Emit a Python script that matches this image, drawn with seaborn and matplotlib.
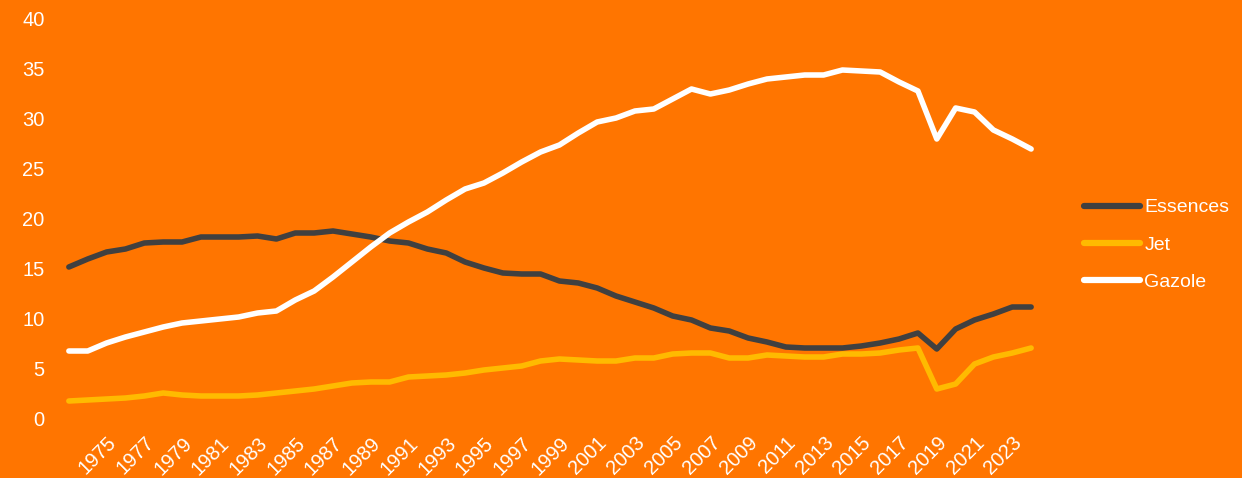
import pandas as pd
import matplotlib
matplotlib.use("Agg")
import matplotlib.pyplot as plt
import seaborn as sns

# data (1973-2024)
years = list(range(1973, 2025))

essences = [15.1, 15.9, 16.6, 16.9, 17.5, 17.6, 17.6, 18.1, 18.1, 18.1,
            18.2, 17.9, 18.5, 18.5, 18.7, 18.4, 18.1, 17.7, 17.5, 16.9,
            16.5, 15.6, 15.0, 14.5, 14.4, 14.4, 13.7, 13.5, 13.0, 12.2,
            11.6, 11.0, 10.2, 9.8, 9.0, 8.7, 8.0, 7.6, 7.1, 7.0,
            7.0, 7.0, 7.2, 7.5, 7.9, 8.5, 6.9, 8.9, 9.8, 10.4,
            11.1, 11.1]

jet = [1.7, 1.8, 1.9, 2.0, 2.2, 2.5, 2.3, 2.2, 2.2, 2.2,
       2.3, 2.5, 2.7, 2.9, 3.2, 3.5, 3.6, 3.6, 4.1, 4.2,
       4.3, 4.5, 4.8, 5.0, 5.2, 5.7, 5.9, 5.8, 5.7, 5.7,
       6.0, 6.0, 6.4, 6.5, 6.5, 6.0, 6.0, 6.3, 6.2, 6.1,
       6.1, 6.4, 6.4, 6.5, 6.8, 7.0, 2.9, 3.4, 5.4, 6.1,
       6.5, 7.0]

gazole = [6.7, 6.7, 7.5, 8.1, 8.6, 9.1, 9.5, 9.7, 9.9, 10.1,
          10.5, 10.7, 11.8, 12.7, 14.1, 15.6, 17.1, 18.5, 19.6, 20.6,
          21.8, 22.9, 23.5, 24.5, 25.6, 26.6, 27.3, 28.5, 29.6, 30.0,
          30.7, 30.9, 31.9, 32.9, 32.4, 32.8, 33.4, 33.9, 34.1, 34.3,
          34.3, 34.8, 34.7, 34.6, 33.6, 32.7, 27.9, 31.0, 30.6, 28.8,
          27.9, 26.9]

tick_years = list(range(1975, 2024, 2))

#reshape to long form for seaborn
df = pd.DataFrame({"year": years, "Essences": essences, "Jet": jet, "Gazole": gazole})
df_long = df.melt(id_vars="year", var_name="produit", value_name="valeur")

bg = "#FF7500"
palette = {"Essences": "#404040", "Jet": "#FFBA00", "Gazole": "#FFFFFF"}

plt.rcParams["font.family"] = ["Liberation Sans", "DejaVu Sans"]

fig = plt.figure(figsize=(12.42, 4.78), dpi=100, facecolor=bg)
ax = fig.add_axes([50 / 1242, 60 / 478, 1000 / 1242, 400 / 478])
ax.set_facecolor(bg)

sns.lineplot(data=df_long, x="year", y="valeur", hue="produit",
             hue_order=["Essences", "Jet", "Gazole"], palette=palette,
             linewidth=4, ax=ax)
for line in ax.get_lines():
    line.set_solid_capstyle("round")

ax.set_xlim(1972, 2025)
ax.set_ylim(0, 40)
ax.set_yticks(range(0, 41, 5))
ax.set_xticks(tick_years)
ax.set_xticklabels([str(y) for y in tick_years], rotation=45, ha="right",
                   rotation_mode="anchor")
ax.tick_params(axis="both", colors="white", labelsize=14.5, length=0)
ax.tick_params(axis="y", pad=4)
ax.tick_params(axis="x", pad=11)
ax.set_xlabel("")
ax.set_ylabel("")
for s in ax.spines.values():
    s.set_visible(False)

leg = ax.legend(loc="center left", bbox_to_anchor=(1084 / 1242, 1 - 245 / 478),
                bbox_transform=fig.transFigure, frameon=False,
                fontsize=14, labelcolor="white", handlelength=2.9,
                handletextpad=0.2, labelspacing=1.02,
                borderpad=0, borderaxespad=0)
for h in leg.get_lines():
    h.set_linewidth(4.5)
    h.set_solid_capstyle("round")

fig.savefig("out.png", dpi=100, facecolor=bg)
